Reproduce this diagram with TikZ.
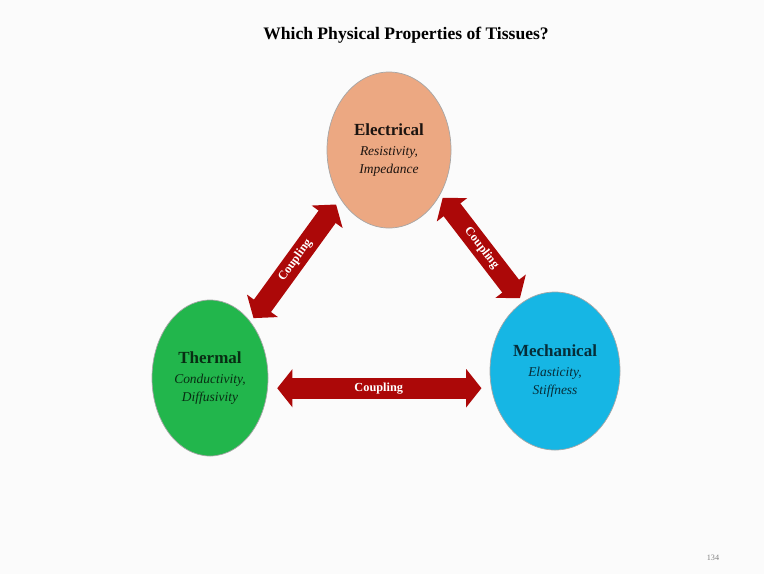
\documentclass[tikz,border=0pt]{standalone}
\usepackage{fontspec}
\setmainfont{Liberation Serif}
\usetikzlibrary{shapes.geometric,arrows.meta}
\definecolor{elecfill}{RGB}{236,168,130}
\definecolor{thermfill}{RGB}{34,182,76}
\definecolor{mechfill}{RGB}{22,182,228}
\definecolor{couplered}{RGB}{172,8,8}
\definecolor{bggray}{RGB}{251,251,251}
\begin{document}
\begin{tikzpicture}[x=0.03cm, y=-0.03cm, line join=round, >=stealth,
	prop/.style={ellipse, draw=gray!70, line width=0.6pt, align=center, inner sep=0pt},
	couple/.style={draw=couplered, line width=18pt, {Triangle[width=32pt,length=13pt]}-{Triangle[width=32pt,length=13pt]}},
	cplabel/.style={midway, sloped, text=white, font=\bfseries\fontsize{10.5}{12}\selectfont}]
	\def\hd{\bfseries\fontsize{14.5}{17}\selectfont}  % titre
	\def\it{\itshape\fontsize{11.5}{14}\selectfont}
	\fill[bggray] (0,0) rectangle (764,574);
	\useasboundingbox (0,0) rectangle (764,574);
	\node (title) at (406,35) {\bfseries\fontsize{15}{17}\selectfont Which Physical Properties of Tissues?};
	% les trois proprietes
	\node[prop, fill=elecfill, text=elecfill!12!black, minimum width=3.72cm, minimum height=4.68cm] (elec) at (389,150) {\hd Electrical\\[5pt] \it Resistivity,\\[3pt] \it Impedance};
	\node[prop, fill=thermfill, text=thermfill!25!black, minimum width=3.48cm, minimum height=4.68cm] (therm) at (210,378) {\hd Thermal\\[5pt] \it Conductivity,\\[3pt] \it Diffusivity};
	\node[prop, fill=mechfill, text=mechfill!25!black, minimum width=3.9cm, minimum height=4.74cm] (mech) at (555,371) {\hd Mechanical\\[5pt] \it Elasticity,\\[3pt] \it Stiffness};
	% couplages
	\draw[couple, shorten <=4pt, shorten >=6pt] (therm.54) -- (elec.-135.5) node[cplabel] {Coupling};
	\draw[couple, shorten <=3.4pt, shorten >=4pt] (elec.-41) -- (mech.115) node[cplabel] {Coupling};
	\draw[couple, shorten <=8pt, shorten >=7pt] (therm.-10) -- (therm.-10 -| mech.west) node[cplabel] {Coupling};
	\node[text=gray, font=\fontsize{7}{8}\selectfont] (page) at (713,558) {134};
\end{tikzpicture}
\end{document}
